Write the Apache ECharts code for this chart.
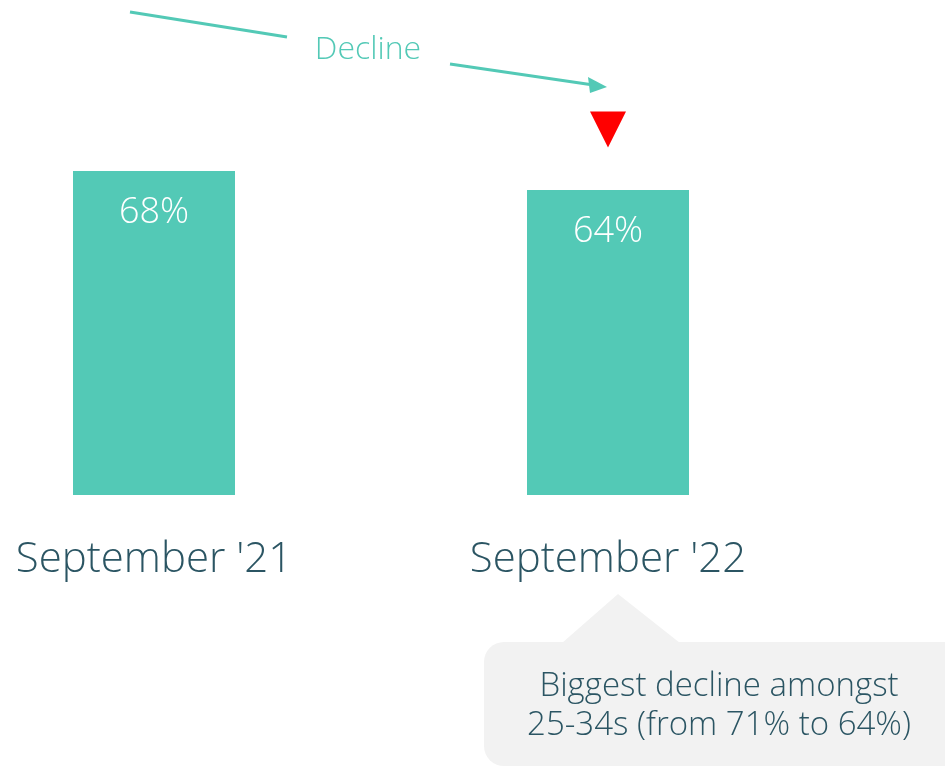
<!DOCTYPE html>
<html>
<head>
<meta charset="utf-8">
<script src="https://cdn.jsdelivr.net/npm/echarts@6/dist/echarts.min.js"></script>
<style>
  html, body { margin: 0; padding: 0; background: #fff; }
  #chart { width: 945px; height: 766px; }
</style>
</head>
<body>
<div id="chart"></div>
<script>
const categories = ["September '21", "September '22"];
const values = [68, 64];
const declineMarkerValue = 76.7; // where the red down-triangle sits above the 2nd bar
const calloutLines = ['Biggest decline amongst', '25-34s (from 71% to 64%)'];

const teal = '#53c9b6';
const ink = '#2b5563';
const font = '"Open Sans", "Noto Sans", sans-serif';

const chart = echarts.init(document.getElementById('chart'));

chart.setOption({
  animation: false,
  // categories sit on the axis ends (boundaryGap false): bar centres at x=154 and x=608
  grid: { left: 154, width: 454, top: 18.5, bottom: 271 },
  xAxis: {
    type: 'category',
    data: categories,
    boundaryGap: false,
    axisLine: { show: false },
    axisTick: { show: false },
    axisLabel: { color: ink, fontSize: 42, fontFamily: font, fontWeight: 300, margin: 44 }
  },
  yAxis: { type: 'value', min: 0, max: 100, show: false },
  series: [{
    type: 'bar',
    data: values,
    barWidth: 162,
    itemStyle: { color: teal },
    label: {
      show: true, position: 'insideTop', distance: 24,
      formatter: '{c}%', color: '#fff', fontSize: 36, fontFamily: font, fontWeight: 300
    },
    markPoint: {
      symbol: 'triangle', symbolSize: [36, 36], symbolRotate: 180,
      itemStyle: { color: '#ff0000' },
      label: { show: false },
      data: [{ coord: [categories[1], declineMarkerValue] }]
    }
  }],
  graphic: [
    { type: 'line', shape: { x1: 130, y1: 12, x2: 287, y2: 37 },
      style: { stroke: teal, lineWidth: 3 } },
    { type: 'text', x: 368, y: 50,
      style: { text: 'Decline', fill: teal, font: '300 32px ' + font, align: 'center', verticalAlign: 'middle' } },
    { type: 'line', shape: { x1: 450, y1: 64, x2: 590, y2: 84.5 },
      style: { stroke: teal, lineWidth: 3 } },
    { type: 'polygon', shape: { points: [[607, 87], [588, 77], [590, 93]] },
      style: { fill: teal } },
    { type: 'polygon', shape: { points: [[562, 643], [618, 594], [680, 643]] },
      style: { fill: '#f2f2f2' } },
    { type: 'rect', shape: { x: 484, y: 642, width: 480, height: 124, r: 20 },
      style: { fill: '#f2f2f2' } },
    { type: 'text', x: 719, y: 706,
      style: { text: calloutLines.join('\n'), fill: ink, font: '300 33px ' + font,
        lineHeight: 39, align: 'center', verticalAlign: 'middle' } }
  ]
});
</script>
</body>
</html>
